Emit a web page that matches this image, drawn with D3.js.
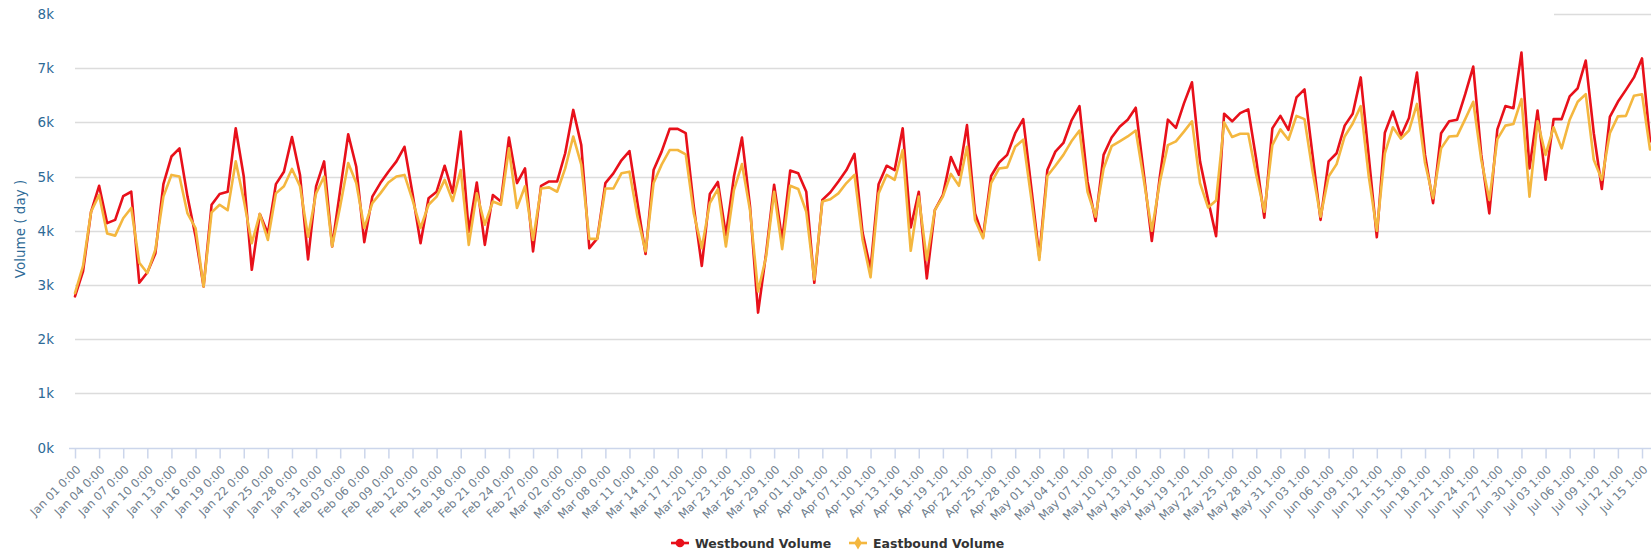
<!DOCTYPE html>
<html>
<head>
<meta charset="utf-8">
<script src="https://cdn.jsdelivr.net/npm/d3@7"></script>
<style>
  html, body { margin: 0; padding: 0; background: #fff; }
  svg { display: block; font-family: 'DejaVu Sans', Verdana, sans-serif; }
</style>
</head>
<body>
<div id="chart"></div>
<script>
// daily volumes, Jan 01 .. Jul 16
const westbound = [
  2790, 3250, 4350, 4830, 4140, 4200, 4640, 4720, 3040, 3230,
  3580, 4860, 5370, 5520, 4630, 3900, 2970, 4480, 4680, 4720,
  5890, 5000, 3280, 4310, 3950, 4860, 5090, 5730, 5030, 3470,
  4820, 5280, 3710, 4750, 5780, 5180, 3790, 4630, 4880, 5090,
  5280, 5550, 4690, 3770, 4600, 4720, 5200, 4700, 5830, 3980,
  4890, 3740, 4660, 4540, 5720, 4880, 5150, 3620, 4830, 4910,
  4910, 5430, 6230, 5580, 3680, 3860, 4880, 5060, 5300, 5470,
  4510, 3570, 5120, 5460, 5880, 5880, 5800, 4450, 3350, 4680,
  4900, 3920, 5000, 5720, 4450, 2490, 3580, 4850, 3830, 5110,
  5060, 4720, 3040, 4570, 4710, 4910, 5120, 5420, 3970, 3290,
  4860, 5200, 5120, 5890, 4060, 4720, 3120, 4380, 4660, 5360,
  5030, 5950, 4320, 3890, 5010, 5260, 5400, 5800, 6060, 4800,
  3520, 5120, 5460, 5620, 6030, 6300, 4910, 4180, 5400, 5720,
  5920, 6050, 6270, 5060, 3810, 5000, 6050, 5900, 6350, 6740,
  5280, 4570, 3900, 6160, 6020, 6170, 6240, 5310, 4240, 5890,
  6120, 5860, 6460, 6610, 5400, 4200, 5280, 5430, 5940, 6160,
  6830, 5370, 3880, 5810, 6200, 5750, 6080, 6920, 5400, 4510,
  5800, 6020, 6050, 6520, 7030, 5400, 4320, 5870, 6300, 6260,
  7290, 5150, 6220, 4940, 6060, 6060, 6480, 6630, 7140, 5800,
  4770, 6100, 6380, 6600, 6830, 7180, 5650
];

const eastbound = [
  2850, 3350, 4350, 4660, 3950, 3910, 4230, 4420, 3410, 3220,
  3650, 4630, 5030, 5000, 4320, 4050, 2970, 4340, 4480, 4380,
  5280, 4570, 3770, 4310, 3830, 4690, 4820, 5140, 4820, 3890,
  4690, 5000, 3710, 4450, 5250, 4880, 4050, 4510, 4690, 4890,
  5000, 5030, 4570, 4050, 4480, 4630, 4940, 4550, 5120, 3740,
  4690, 4110, 4540, 4480, 5520, 4420, 4820, 3830, 4780, 4800,
  4720, 5150, 5740, 5220, 3850, 3850, 4780, 4780, 5060, 5090,
  4260, 3620, 4880, 5220, 5490, 5490, 5410, 4320, 3680, 4510,
  4770, 3710, 4750, 5230, 4380, 2880, 3520, 4720, 3660, 4830,
  4770, 4350, 3100, 4540, 4580, 4690, 4880, 5030, 3840, 3140,
  4690, 5030, 4940, 5490, 3630, 4630, 3460, 4380, 4630, 5050,
  4830, 5550, 4200, 3860, 4880, 5150, 5170, 5550, 5680, 4600,
  3460, 5010, 5200, 5400, 5650, 5850, 4720, 4260, 5150, 5560,
  5650, 5740, 5850, 4940, 4000, 4900, 5580, 5650, 5830, 6020,
  4880, 4430, 4560, 6000, 5730, 5790, 5790, 5030, 4350, 5580,
  5870, 5680, 6120, 6060, 5100, 4260, 5000, 5230, 5740, 5980,
  6300, 5000, 4000, 5430, 5910, 5700, 5850, 6340, 5250, 4600,
  5520, 5740, 5750, 6060, 6380, 5310, 4570, 5690, 5940, 5970,
  6430, 4630, 6020, 5400, 5910, 5520, 6050, 6380, 6520, 5310,
  4940, 5800, 6110, 6120, 6490, 6520, 5500
];

// one label on every third day
const tickLabels = [
  'Jan 01 0:00', 'Jan 04 0:00', 'Jan 07 0:00', 'Jan 10 0:00', 'Jan 13 0:00', 'Jan 16 0:00',
  'Jan 19 0:00', 'Jan 22 0:00', 'Jan 25 0:00', 'Jan 28 0:00', 'Jan 31 0:00', 'Feb 03 0:00',
  'Feb 06 0:00', 'Feb 09 0:00', 'Feb 12 0:00', 'Feb 15 0:00', 'Feb 18 0:00', 'Feb 21 0:00',
  'Feb 24 0:00', 'Feb 27 0:00', 'Mar 02 0:00', 'Mar 05 0:00', 'Mar 08 0:00', 'Mar 11 0:00',
  'Mar 14 1:00', 'Mar 17 1:00', 'Mar 20 1:00', 'Mar 23 1:00', 'Mar 26 1:00', 'Mar 29 1:00',
  'Apr 01 1:00', 'Apr 04 1:00', 'Apr 07 1:00', 'Apr 10 1:00', 'Apr 13 1:00', 'Apr 16 1:00',
  'Apr 19 1:00', 'Apr 22 1:00', 'Apr 25 1:00', 'Apr 28 1:00', 'May 01 1:00', 'May 04 1:00',
  'May 07 1:00', 'May 10 1:00', 'May 13 1:00', 'May 16 1:00', 'May 19 1:00', 'May 22 1:00',
  'May 25 1:00', 'May 28 1:00', 'May 31 1:00', 'Jun 03 1:00', 'Jun 06 1:00', 'Jun 09 1:00',
  'Jun 12 1:00', 'Jun 15 1:00', 'Jun 18 1:00', 'Jun 21 1:00', 'Jun 24 1:00', 'Jun 27 1:00',
  'Jun 30 1:00', 'Jul 03 1:00', 'Jul 06 1:00', 'Jul 09 1:00', 'Jul 12 1:00', 'Jul 15 1:00'
];

const yTicks = [0, 1000, 2000, 3000, 4000, 5000, 6000, 7000, 8000];

const series = [
  { name: 'Westbound Volume', values: westbound, color: '#e8101a', symbol: d3.symbolCircle },
  { name: 'Eastbound Volume', values: eastbound, color: '#f4b73f', symbol: d3.symbolDiamond }
];

const width = 1651;
const height = 553;

const svg = d3.select('#chart')
  .append('svg')
  .attr('width', width)
  .attr('height', height);

const x = d3.scaleLinear()
  .domain([0, 195])
  .range([75, 1642]);

const y = d3.scaleLinear()
  .domain([0, 8000])
  .range([447.5, 14]);

// grid lines (the 8k line is mostly hidden under the title area)
svg.append('g')
  .selectAll('line')
  .data(yTicks.filter(t => t > 0 && t < 8000))
  .enter()
  .append('line')
  .attr('x1', 75)
  .attr('x2', width)
  .attr('y1', d => Math.round(y(d)) + 0.5)
  .attr('y2', d => Math.round(y(d)) + 0.5)
  .attr('stroke', '#dcdcdc')
  .attr('stroke-width', 1.5);

svg.append('line')
  .attr('x1', 1554)
  .attr('x2', width)
  .attr('y1', Math.round(y(8000)) + 0.5)
  .attr('y2', Math.round(y(8000)) + 0.5)
  .attr('stroke', '#dcdcdc')
  .attr('stroke-width', 1.5);

// y labels
svg.append('g')
  .selectAll('text')
  .data(yTicks)
  .enter()
  .append('text')
  .attr('x', 54)
  .attr('y', d => y(d) + 5)
  .attr('text-anchor', 'end')
  .attr('font-size', '13.5px')
  .attr('fill', '#2e6a96')
  .text(d => (d / 1000) + 'k');

svg.append('text')
  .attr('transform', 'translate(25,229) rotate(-90)')
  .attr('text-anchor', 'middle')
  .attr('font-size', '13.5px')
  .attr('fill', '#2e6a96')
  .text('Volume ( day )');

// x axis
const tickIdx = tickLabels.map((d, i) => i * 3);

const xAxis = d3.axisBottom(x)
  .tickValues(tickIdx)
  .tickSize(10)
  .tickFormat((d, i) => tickLabels[i]);

const gx = svg.append('g')
  .attr('transform', `translate(0,${Math.round(y(0)) + 0.5})`)
  .call(xAxis);

gx.select('.domain')
  .attr('stroke', '#ccd6eb')
  .attr('stroke-width', 1.5)
  .attr('d', `M${x(0) - 6},0H${width}`);

gx.selectAll('.tick line')
  .attr('stroke', '#ccd6eb')
  .attr('stroke-width', 1.5);

gx.selectAll('.tick text')
  .attr('font-family', "'DejaVu Sans', Verdana, sans-serif")
  .attr('font-size', '11.5px')
  .attr('fill', '#6e7d8c')
  .attr('text-anchor', 'end')
  .attr('transform', 'translate(3,19) rotate(-45)')
  .attr('dy', '0.35em')
  .attr('y', 0);

// lines
const line = d3.line()
  .x((d, i) => x(i))
  .y(d => y(d));

svg.append('g')
  .selectAll('path')
  .data(series)
  .enter()
  .append('path')
  .attr('d', d => line(d.values))
  .attr('fill', 'none')
  .attr('stroke', d => d.color)
  .attr('stroke-width', 2.6)
  .attr('stroke-linejoin', 'round')
  .attr('stroke-linecap', 'round');

// legend
const legendPos = [671, 849];

const legend = svg.append('g')
  .selectAll('g')
  .data(series)
  .enter()
  .append('g')
  .attr('transform', (d, i) => `translate(${legendPos[i]},543)`);

legend.append('line')
  .attr('x1', 0)
  .attr('x2', 18)
  .attr('stroke', d => d.color)
  .attr('stroke-width', 2.6);

legend.append('path')
  .attr('transform', 'translate(9,0)')
  .attr('d', d => d3.symbol().type(d.symbol).size(d.symbol === d3.symbolCircle ? 60 : 50)())
  .attr('fill', d => d.color);

legend.append('text')
  .attr('x', 24)
  .attr('y', 4.5)
  .attr('font-size', '12.5px')
  .attr('font-weight', 'bold')
  .attr('fill', '#333333')
  .text(d => d.name);
</script>
</body>
</html>
